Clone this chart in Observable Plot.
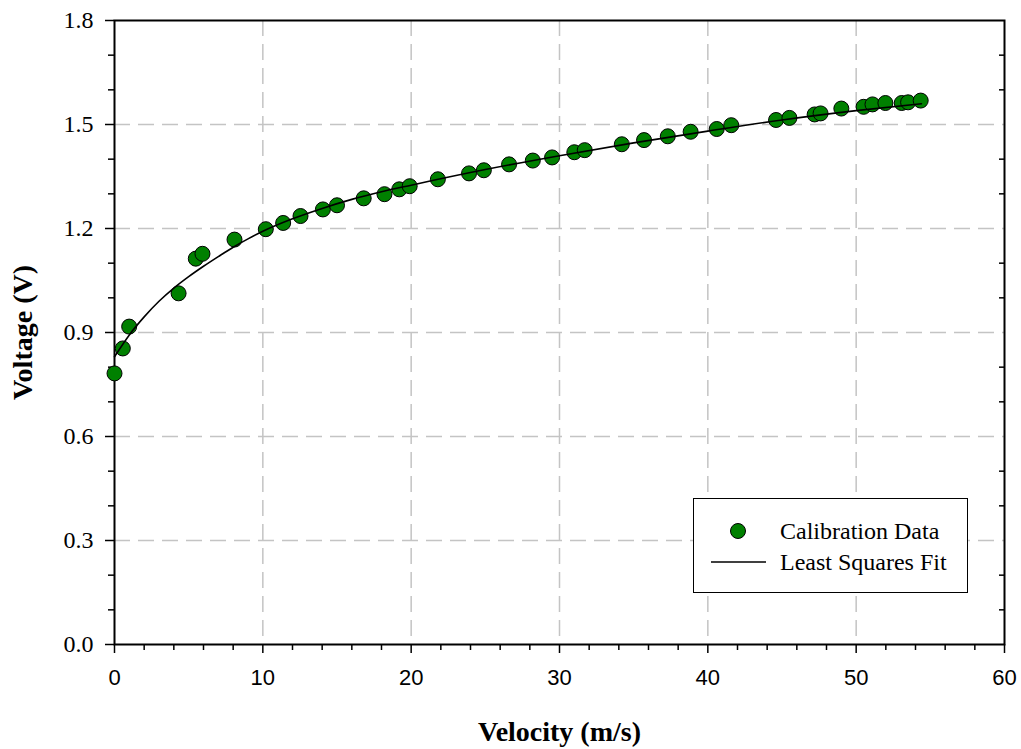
<!DOCTYPE html>
<html>
<head>
<meta charset="utf-8">
<script src="https://cdn.jsdelivr.net/npm/d3@7"></script>
<script src="https://cdn.jsdelivr.net/npm/@observablehq/plot@0.6"></script>
<style>
  html, body { margin: 0; padding: 0; background: #fff; }
  #wrap { position: relative; width: 1021px; height: 749px; }
  g[aria-label="x-axis label"] text, g[aria-label="y-axis label"] text {
    font-family: "Liberation Serif", serif; font-weight: bold; font-size: 28px;
  }
  #legend { position: absolute; left: 693px; top: 498px; width: 275px; height: 95px;
    background: #fff; border: 1px solid #000; box-sizing: border-box;
    font-family: "Liberation Serif", serif; font-size: 24px; color: #000; }
</style>
</head>
<body>
<div id="wrap"></div>
<script>
// Calibration data
const velocity = [0, 0.56, 0.99, 4.32, 5.48, 5.93, 8.09, 10.2, 11.37, 12.54, 14.05, 15.0,
  16.8, 18.2, 19.2, 19.9, 21.8, 23.9, 24.9, 26.6, 28.2, 29.5, 31.0, 31.7, 34.2, 35.7, 37.3,
  38.84, 40.6, 41.58, 44.6, 45.5, 47.2, 47.6, 49.0, 50.5, 51.1, 51.97, 53.07, 53.5, 54.35];
const voltage = [0.782, 0.854, 0.917, 1.013, 1.113, 1.127, 1.168, 1.198, 1.216, 1.236, 1.255, 1.267,
  1.287, 1.299, 1.313, 1.322, 1.342, 1.359, 1.368, 1.385, 1.396, 1.405, 1.420, 1.426, 1.443, 1.455, 1.466,
  1.479, 1.487, 1.498, 1.513, 1.519, 1.529, 1.532, 1.546, 1.551, 1.558, 1.562, 1.562, 1.564, 1.569];

// Least squares fit curve
const fitVelocity = [0, 1, 2, 3, 4, 5, 6, 7, 8, 9, 10, 12, 14, 16, 18, 20, 25, 30, 35, 40, 45, 50, 54.4];
const fitVoltage = [0.830, 0.893, 0.945, 0.990, 1.028, 1.061, 1.091, 1.119, 1.146, 1.170, 1.192, 1.228,
  1.258, 1.284, 1.306, 1.325, 1.370, 1.410, 1.447, 1.481, 1.513, 1.540, 1.560];

// Ticks
const xMajor = [0, 10, 20, 30, 40, 50, 60];
const xMinor = [2, 4, 6, 8, 12, 14, 16, 18, 22, 24, 26, 28, 32, 34, 36, 38, 42, 44, 46, 48, 52, 54, 56, 58];
const xGrid = [10, 20, 30, 40, 50];
const yMajor = [0, 0.3, 0.6, 0.9, 1.2, 1.5, 1.8];
const yMinor = [0.1, 0.2, 0.4, 0.5, 0.7, 0.8, 1.0, 1.1, 1.3, 1.4, 1.6, 1.7];
const yGrid = [0.3, 0.6, 0.9, 1.2, 1.5];

const xTitle = "Velocity (m/s)";
const yTitle = "Voltage (V)";
const legendLabels = ["Calibration Data", "Least Squares Fit"];

const points = velocity.map((v, i) => ({v, e: voltage[i]}));
const fit = fitVelocity.map((v, i) => ({v, e: fitVoltage[i]}));

const gridStyle = {stroke: "#c4c4c4", strokeOpacity: 1, strokeWidth: 1.5, strokeDasharray: "16,8"};

const chart = Plot.plot({
  width: 1021,
  height: 749,
  marginLeft: 114,
  marginRight: 17,
  marginTop: 20,
  marginBottom: 105,
  style: {background: "#fff", overflow: "visible"},
  x: {domain: [0, 60]},
  y: {domain: [0, 1.8]},
  marks: [
    Plot.gridX(xGrid, gridStyle),
    Plot.gridY(yGrid, gridStyle),
    Plot.axisX(xMinor, {tickSize: 6, text: null, label: null, strokeWidth: 1.5}),
    Plot.axisX(xMajor, {tickSize: 9, tickPadding: 16, tickFormat: d => String(d),
      fontSize: 22, fontFamily: "Liberation Sans, Arial, sans-serif", strokeWidth: 1.5,
      label: xTitle, labelAnchor: "center", labelArrow: "none", labelOffset: 96}),
    Plot.axisY(yMinor, {tickSize: 6, text: null, label: null, strokeWidth: 1.5}),
    Plot.axisY(yMinor, {anchor: "right", tickSize: -6, text: null, label: null, strokeWidth: 1.5}),
    Plot.axisY(yMajor, {tickSize: 9, tickPadding: 12, tickFormat: d3.format(".1f"),
      fontSize: 24, fontFamily: "Liberation Serif, serif", strokeWidth: 1.5,
      label: yTitle, labelAnchor: "center", labelArrow: "none", labelOffset: 102}),
    Plot.frame({stroke: "#000", strokeWidth: 2}),
    Plot.dot(points, {x: "v", y: "e", r: 7.5, fill: "#008000", stroke: "#000", strokeWidth: 1}),
    Plot.line(fit, {x: "v", y: "e", stroke: "#000", strokeWidth: 1.6, curve: "monotone-x"})
  ]
});

const wrap = document.getElementById("wrap");
wrap.appendChild(chart);

// Legend overlay
const legend = document.createElement("div");
legend.id = "legend";
const ns = "http://www.w3.org/2000/svg";
const lsvg = document.createElementNS(ns, "svg");
lsvg.setAttribute("width", 273);
lsvg.setAttribute("height", 93);
lsvg.style.display = "block";
const c = document.createElementNS(ns, "circle");
c.setAttribute("cx", 44); c.setAttribute("cy", 32); c.setAttribute("r", 7.5);
c.setAttribute("fill", "#008000"); c.setAttribute("stroke", "#000"); c.setAttribute("stroke-width", 1);
lsvg.appendChild(c);
const l = document.createElementNS(ns, "line");
l.setAttribute("x1", 17); l.setAttribute("x2", 72); l.setAttribute("y1", 63); l.setAttribute("y2", 63);
l.setAttribute("stroke", "#000"); l.setAttribute("stroke-width", 1.6);
lsvg.appendChild(l);
legendLabels.forEach((t, i) => {
  const tx = document.createElementNS(ns, "text");
  tx.setAttribute("x", 86);
  tx.setAttribute("y", [32, 63][i]);
  tx.setAttribute("dy", "0.34em");
  tx.setAttribute("font-family", "Liberation Serif, serif");
  tx.setAttribute("font-size", 24);
  tx.textContent = t;
  lsvg.appendChild(tx);
});
legend.appendChild(lsvg);
wrap.appendChild(legend);
</script>
</body>
</html>
